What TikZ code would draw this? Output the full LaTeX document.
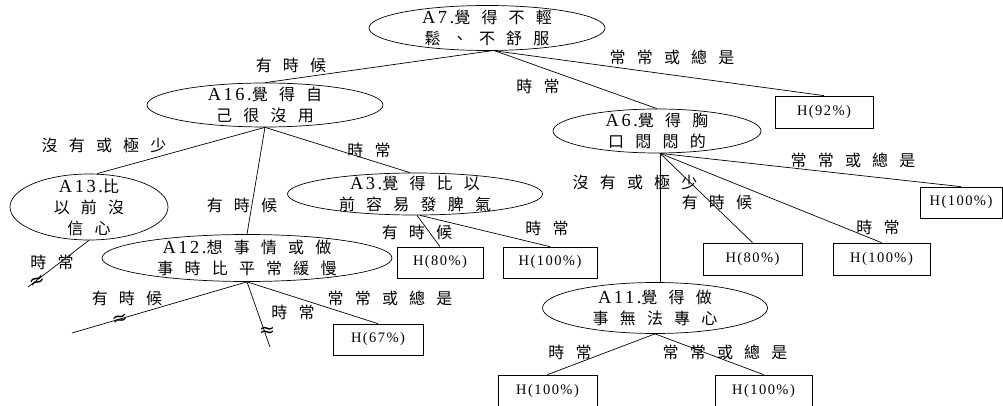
\documentclass[tikz,border=0pt]{standalone}
\usepackage{fontspec}
\setmainfont{Liberation Serif}[Scale=1.15,LetterSpace=14]
\newfontfamily\cjk{Noto Sans CJK TC}[LetterSpace=70]
\newfontfamily\pct{Liberation Serif}[LetterSpace=10]
\newfontfamily\wave{DejaVu Sans}
\usetikzlibrary{shapes.geometric}
\tikzset{
  q/.style={draw,ellipse,inner sep=0pt,line width=0.7pt},
  qtext/.style={align=center,inner sep=0pt,font=\fontsize{16}{21}\selectfont},
  leaf/.style={draw,rectangle,inner sep=0pt,minimum height=32pt,line width=0.7pt,
    font=\pct\fontsize{14.5}{16}\selectfont},
  lbl/.style={inner sep=0pt,font=\cjk\fontsize{16}{20}\selectfont},
  brk/.style={inner sep=0pt,font=\wave\fontsize{19}{19}\selectfont},
  branch/.style={line width=0.7pt}
}

\begin{document}
\begin{tikzpicture}[x=1pt,y=-1pt]
\clip (0,0) rectangle (1003,406);
% questions
\node[q,minimum width=236pt,minimum height=45pt,
  label={[qtext]center:A7.{\cjk 覺得不輕}\\{\cjk 鬆、不舒服}}] (a7) at (487,28) {};
\node[q,minimum width=236pt,minimum height=44pt,
  label={[qtext]center:A16.{\cjk 覺得自}\\{\cjk 己很沒用}}] (a16) at (265,105) {};
\node[q,minimum width=158pt,minimum height=66pt,
  label={[qtext]center:A13.{\cjk 比}\\{\cjk 以前沒}\\{\cjk 信心}}] (a13) at (89,207) {};
\node[q,minimum width=255pt,minimum height=42pt,
  label={[qtext]center:A3.{\cjk 覺得比以}\\{\cjk 前容易發脾氣}}] (a3) at (415,194) {};
\node[q,minimum width=290pt,minimum height=47pt,
  label={[qtext]center:A12.{\cjk 想事情或做}\\{\cjk 事時比平常緩慢}}] (a12) at (247,258) {};
\node[q,minimum width=208pt,minimum height=44pt,
  label={[qtext]center:A6.{\cjk 覺得胸}\\{\cjk 口悶悶的}}] (a6) at (657,131) {};
\node[q,minimum width=225pt,minimum height=51pt,
  label={[qtext]center:A11.{\cjk 覺得做}\\{\cjk 事無法專心}}] (a11) at (655,308) {};
% leaves
\node[leaf,minimum width=98pt] (h92) at (824,112) {H(92\%)};
\node[leaf,minimum width=82pt,minimum height=31pt] (h100a) at (961,202.5) {H(100\%)};
\node[leaf,minimum width=99pt] (h80b) at (752.5,259) {H(80\%)};
\node[leaf,minimum width=97pt] (h100b) at (881.5,259) {H(100\%)};
\node[leaf,minimum width=86pt,minimum height=31pt] (h80a) at (440,262.5) {H(80\%)};
\node[leaf,minimum width=94pt,minimum height=31pt] (h100c) at (550,262.5) {H(100\%)};
\node[leaf,minimum width=90pt,minimum height=31pt] (h67) at (378,339.5) {H(67\%)};
\node[leaf,minimum width=99pt] (h100d) at (547.5,391) {H(100\%)};
\node[leaf,minimum width=97pt] (h100e) at (763.5,391) {H(100\%)};
% cut branches
\coordinate (e13) at (28,287);
\coordinate (e12l) at (72,333);
\coordinate (e12m) at (270,347);
\node[brk,rotate=25] (w13) at (38,282) {≈};
\node[brk,rotate=15] (w12l) at (120,320) {≈};
\node[brk] (w12m) at (267,332) {≈};
% branches
\draw[branch] ([xshift=4pt]a7.south) -- (a16.north);
\draw[branch] ([xshift=8pt]a7.south) -- (a6.north);
\draw[branch] ([xshift=8pt]a7.south) -- (h92.north);
\draw[branch] (a16.south) -- ([xshift=8pt]a13.north);
\draw[branch] (a16.south) -- (a12.north);
\draw[branch] (a16.south) -- ([xshift=-5pt]a3.north);
\draw[branch] (a13.south) -- (e13);
\draw[branch] ([xshift=2pt]a3.south) -- (h80a.north);
\draw[branch] ([xshift=5pt]a3.south) -- (h100c.north);
\draw[branch] (a12.south) -- (e12l);
\draw[branch] (a12.south) -- (e12m);
\draw[branch] (a12.south) -- (h67.north);
\draw[branch] ([xshift=3pt]a6.south) -- (h100a.north);
\draw[branch] ([xshift=3pt]a6.south) -- (h80b.north);
\draw[branch] ([xshift=3pt]a6.south) -- (h100b.north);
\draw[branch] ([xshift=3pt]a6.south) -- ([xshift=5pt]a11.north);
\draw[branch] (a11.south) -- (h100d.north);
\draw[branch] (a11.south) -- (h100e.north);
% answers
\node[lbl] (t7a) at (291,65) {有時候};
\node[lbl] (t7b) at (538,86) {時常};
\node[lbl] (t7c) at (672,57) {常常或總是};
\node[lbl] (t16a) at (104,145) {沒有或極少};
\node[lbl] (t16b) at (242,205) {有時候};
\node[lbl] (t16c) at (369,150) {時常};
\node[lbl] (t13) at (52,262) {時常};
\node[lbl] (t3a) at (417,232) {有時候};
\node[lbl] (t3b) at (547,228) {時常};
\node[lbl] (t12a) at (127,298) {有時候};
\node[lbl] (t12b) at (293,312) {時常};
\node[lbl] (t12c) at (390,298) {常常或總是};
\node[lbl] (t6a) at (635,182) {沒有或極少};
\node[lbl] (t6b) at (717,202) {有時候};
\node[lbl] (t6c) at (878,227) {時常};
\node[lbl] (t6d) at (853,160) {常常或總是};
\node[lbl] (t11a) at (570,352) {時常};
\node[lbl] (t11b) at (725,352) {常常或總是};
\end{tikzpicture}
\end{document}
